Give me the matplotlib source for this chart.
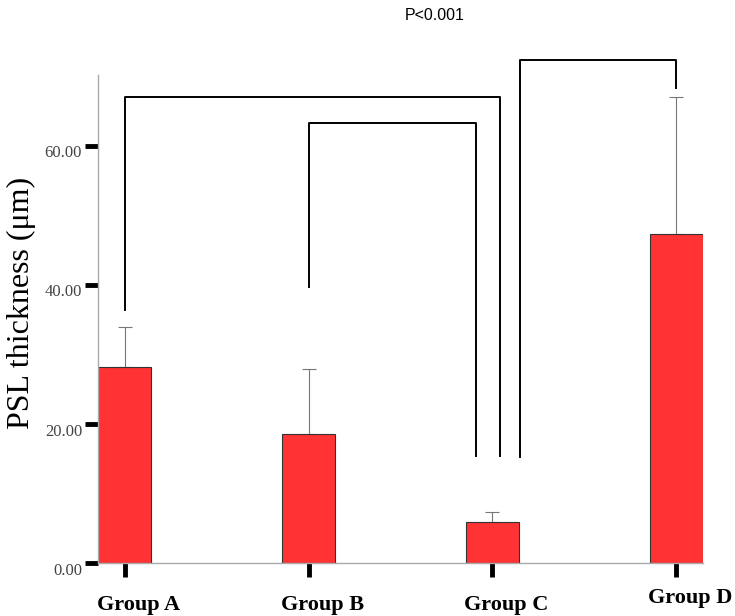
import numpy as np
import matplotlib.pyplot as plt
from matplotlib.transforms import ScaledTranslation

groups = ['Group A', 'Group B', 'Group C', 'Group D']
means = [28.2, 18.6, 5.9, 47.3]
upper_err = [5.8, 9.3, 1.4, 19.7]
yticks = [0, 20, 40, 60]

# brackets: (left group, right group, left leg end, right leg end, top)
brackets = [
    (0, 2, 36.4, 15.4, 67.1),
    (1, 2, 39.7, 15.4, 63.3),
    (2, 3, 15.3, 68.3, 72.4),
]
bracket_dx = [(0, 0.04), (0, -0.09), (0.15, 0)]

fig = plt.figure(figsize=(7.35, 6.16), dpi=100)
ax = fig.add_axes([98 / 735, 53 / 616, 605 / 735, 488 / 616])

x = np.arange(len(groups))
ax.bar(x, means, width=0.29, color='#ff3333', edgecolor='#333333', linewidth=0.8, zorder=2)
ax.errorbar(x, means, yerr=[np.zeros(len(means)), upper_err], fmt='none',
            ecolor='#777777', elinewidth=0.8, capsize=5, capthick=0.8, zorder=1)

for (a, b, la, lb, top), (da, db) in zip(brackets, bracket_dx):
    xa, xb = a + da, b + db
    ax.plot([xa, xa, xb, xb], [la, top, top, lb], color='black', lw=1.4, clip_on=False)

ax.set_xlim(-0.145, 3.145)
ax.set_ylim(0, 70.2)
ax.set_xticks(x)
ax.set_xticklabels(groups, fontfamily='Liberation Serif', fontweight='bold', fontsize=16)
ax.set_yticks(yticks)
ax.set_yticklabels(['%.2f' % v for v in yticks], fontfamily='Liberation Serif',
                   fontsize=12, color='#444444')
ax.tick_params(axis='x', length=10, width=3.5, direction='out', pad=13)
ax.tick_params(axis='y', length=9.5, width=3.5, direction='out', pad=2)

# labels sit a little off their ticks in the original
for i, lab in enumerate(ax.get_xticklabels()):
    dy = 5 / 72 if i == 3 else 0
    lab.set_transform(lab.get_transform() + ScaledTranslation(10 / 72, dy, fig.dpi_scale_trans))
for lab in ax.get_yticklabels():
    lab.set_transform(lab.get_transform() + ScaledTranslation(0, -4 / 72, fig.dpi_scale_trans))

for s in ['top', 'right']:
    ax.spines[s].set_visible(False)
for s in ['left', 'bottom']:
    ax.spines[s].set_color('#aaaaaa')
    ax.spines[s].set_linewidth(1.0)

ax.set_ylabel('PSL thickness (μm)', fontfamily='Liberation Serif', fontsize=23)
ax.yaxis.set_label_coords(-0.102, 0.533)
fig.text(435 / 735, 1 - 15 / 616, 'P<0.001', ha='center', va='center',
         fontfamily='Liberation Sans', fontsize=11.5)

fig.savefig('out.png', dpi=100)
